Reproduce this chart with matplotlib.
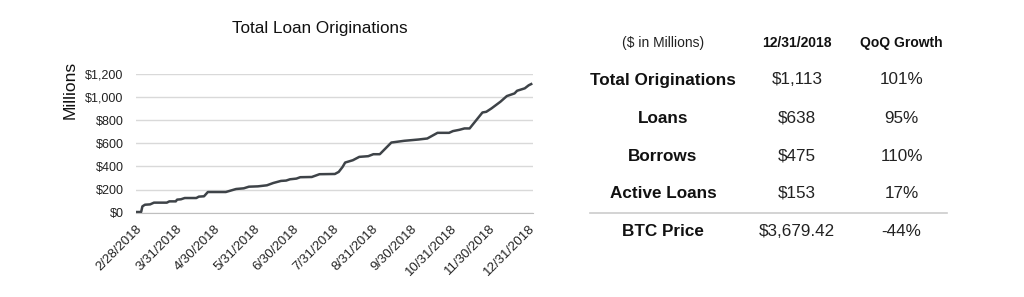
import pandas as pd
import numpy as np
import matplotlib.pyplot as plt

plt.rcParams['font.family'] = ['Liberation Sans', 'DejaVu Sans']

# cumulative originations, days after 2/28/2018 -> $ millions
start = pd.Timestamp('2018-02-28')
days = [0, 4, 5, 7, 11, 14, 24, 26, 31, 32, 35, 38, 47, 49, 53, 56, 70, 78, 84, 88,
        95, 102, 107, 113, 117, 120, 125, 128, 137, 143, 155, 158, 161, 163, 169, 174,
        181, 185, 190, 199, 209, 220, 227, 235, 244, 247, 252, 256, 260, 270, 273, 277,
        284, 289, 295, 297, 303, 306, 308]
values = [6, 6, 55, 69, 72, 87, 87, 98, 98, 113, 116, 127, 127, 139, 142, 179, 179, 205, 211, 225,
          228, 237, 257, 275, 278, 289, 295, 307, 309, 333, 335, 353, 396, 434, 454, 483,
          489, 506, 506, 607, 622, 633, 642, 691, 691, 706, 717, 729, 729, 867, 873, 902,
          960, 1009, 1032, 1055, 1076, 1102, 1113]

month_ends = ['2018-02-28', '2018-03-31', '2018-04-30', '2018-05-31', '2018-06-30', '2018-07-31',
              '2018-08-31', '2018-09-30', '2018-10-31', '2018-11-30', '2018-12-31']
month_labels = ['2/28/2018', '3/31/2018', '4/30/2018', '5/31/2018', '6/30/2018', '7/31/2018',
                '8/31/2018', '9/30/2018', '10/31/2018', '11/30/2018', '12/31/2018']
y_ticks = [0, 200, 400, 600, 800, 1000, 1200]

table_header = ['($ in Millions)', '12/31/2018', 'QoQ Growth']
row_names = ['Total Originations', 'Loans', 'Borrows', 'Active Loans', 'BTC Price']
row_values = ['$1,113', '$638', '$475', '$153', '$3,679.42']
row_growth = ['101%', '95%', '110%', '17%', '-44%']

W, H = 1024, 297
fig = plt.figure(figsize=(W / 100, H / 100), dpi=100)

def px(x, y):
    return x / W, 1 - y / H

# ---- line chart ----
ax = fig.add_axes([136 / W, 1 - 212.7 / H, (533 - 136) / W, (212.7 - 74) / H])
dates = start + pd.to_timedelta(days, unit='D')
ax.plot(dates, values, color='#3e4348', lw=1.8, solid_joinstyle='round')

ax.set_ylim(0, 1200)
ax.set_xlim(start, start + pd.Timedelta(days=309.4))
ax.set_yticks(y_ticks)
ax.set_yticklabels(['$' + format(v, ',') for v in y_ticks], fontsize=9, color='#222222')
ax.grid(axis='y', color='#d9d9d9', lw=1)
ax.set_axisbelow(True)

me = pd.to_datetime(month_ends)
ax.set_xticks(me)
ax.set_xticklabels(month_labels, rotation=45, ha='right', rotation_mode='anchor',
                   fontsize=9.5, color='#222222')
ax.set_xticks(me[::2], minor=True)
ax.tick_params(axis='x', which='major', length=0, pad=7)
ax.tick_params(axis='x', which='minor', length=4, color='#bfbfbf')
ax.tick_params(axis='y', length=0, pad=9)
for s in ['top', 'right', 'left']:
    ax.spines[s].set_visible(False)
ax.spines['bottom'].set_color('#bfbfbf')

fig.text(*px(320, 29), 'Total Loan Originations', fontsize=12.3, ha='center', va='center',
         color='#111111')
fig.text(*px(70, 90), 'Millions', fontsize=12.5, rotation=90, ha='center', va='center',
         color='#111111')

# ---- summary table ----
col_x = [663, 797, 901.5]
header_y = 43.3
row_y = [80, 118.3, 156, 193.3, 231.7]

fig.text(*px(col_x[0], header_y), table_header[0], fontsize=10, ha='center', va='center',
         color='#222222')
fig.text(*px(col_x[1], header_y), table_header[1], fontsize=10, ha='center', va='center',
         fontweight='bold', color='#111111')
fig.text(*px(col_x[2], header_y), table_header[2], fontsize=10, ha='center', va='center',
         fontweight='bold', color='#111111')

for name, val, g, y in zip(row_names, row_values, row_growth, row_y):
    fig.text(*px(col_x[0], y), name, fontsize=12.3, ha='center', va='center',
             fontweight='bold', color='#111111')
    fig.text(*px(col_x[1], y), val, fontsize=12.3, ha='center', va='center', color='#222222')
    fig.text(*px(col_x[2], y), g, fontsize=12.3, ha='center', va='center', color='#222222')

fig.add_artist(plt.Line2D([590 / W, 947 / W], [1 - 212.7 / H] * 2, color='#cccccc', lw=1.2))

fig.savefig('out.png', dpi=100, facecolor='white')
